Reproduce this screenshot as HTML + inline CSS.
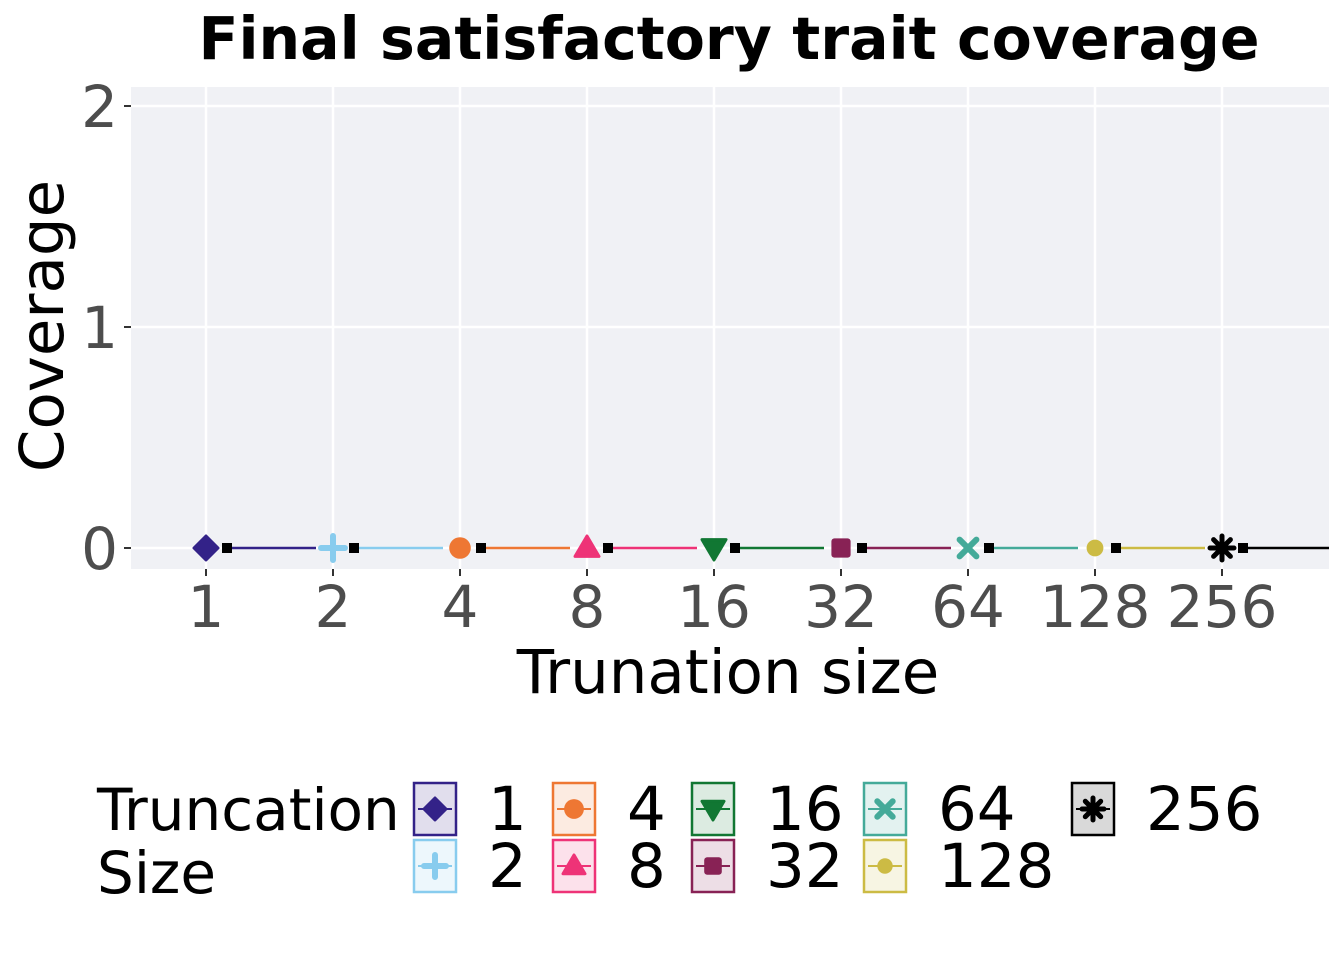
<!DOCTYPE html>
<html><head><meta charset="utf-8"><style>
body{margin:0;background:#fff;}
svg text{font-family:"DejaVu Sans","Liberation Sans",sans-serif;}
</style></head><body>
<svg id="chart" width="1344" height="960" xmlns="http://www.w3.org/2000/svg">
<text x="729" y="59" text-anchor="middle" font-size="58.5" font-weight="bold">Final satisfactory trait coverage</text>
<rect x="131" y="87" width="1198" height="482" fill="#f0f1f5"/>
<g id="grid"></g>
<g id="marks"></g>
<g id="axes"></g>
<text x="728" y="693" text-anchor="middle" font-size="61">Trunation size</text>
<text transform="translate(63,326) rotate(-90)" text-anchor="middle" font-size="61">Coverage</text>
<text x="97" y="830" font-size="58">Truncation</text>
<text x="97" y="893" font-size="58">Size</text>
<g id="legend"></g>
</svg>
<script>
const categories=["1","2","4","8","16","32","64","128","256"];
const values=[0,0,0,0,0,0,0,0,0];
const colors=["#332288","#88ccee","#ee7733","#ee3377","#117733","#882255","#44aa99","#ccbb44","#000000"];
const shapes=["diamond","plus","circle","triUp","triDown","square","cross","dot","star"];
const yTicks=[0,1,2];
const NS="http://www.w3.org/2000/svg";
const xs=i=>206+127*i;
const ys=v=>548-221*v;
function mk(t,a,p){const e=document.createElementNS(NS,t);for(const k in a)e.setAttribute(k,a[k]);p.appendChild(e);return e;}
const grid=document.getElementById('grid'),marks=document.getElementById('marks'),axes=document.getElementById('axes'),leg=document.getElementById('legend');
yTicks.forEach(t=>{
 const l=mk('line',{x1:131,x2:1329,y1:ys(t),y2:ys(t),stroke:'#fff','stroke-width':2.5},grid);
 
 
 mk('line',{x1:124,x2:131,y1:ys(t),y2:ys(t),stroke:'#333','stroke-width':2},axes);
 const tx=mk('text',{x:118,y:ys(t)+21,'text-anchor':'end','font-size':58,fill:'#4d4d4d'},axes);
 tx.textContent=t;
 
 
});
function shape(s,cx,cy,r,c,p){
 let e;
 if(s=='diamond')e=mk('polygon',{points:`${cx},${cy-r} ${cx+r},${cy} ${cx},${cy+r} ${cx-r},${cy}`,fill:c,stroke:c,'stroke-width':3,'stroke-linejoin':'round'},p);
 else if(s=='plus'){e=mk('path',{d:`M${cx-r},${cy}H${cx+r}M${cx},${cy-r}V${cy+r}`,stroke:c,'stroke-width':6,'stroke-linecap':'round'},p);}
 else if(s=='circle')e=mk('circle',{cx,cy,r:r*0.9,fill:c},p);
 else if(s=='triUp')e=mk('polygon',{points:`${cx},${cy-r} ${cx+r},${cy+r*0.7} ${cx-r},${cy+r*0.7}`,fill:c,stroke:c,'stroke-width':3,'stroke-linejoin':'round'},p);
 else if(s=='triDown')e=mk('polygon',{points:`${cx},${cy+r} ${cx+r},${cy-r*0.7} ${cx-r},${cy-r*0.7}`,fill:c,stroke:c,'stroke-width':3,'stroke-linejoin':'round'},p);
 else if(s=='square')e=mk('rect',{x:cx-r*0.8,y:cy-r*0.8,width:r*1.6,height:r*1.6,rx:3,fill:c},p);
 else if(s=='cross')e=mk('path',{d:`M${cx-r*.7},${cy-r*.7}L${cx+r*.7},${cy+r*.7}M${cx+r*.7},${cy-r*.7}L${cx-r*.7},${cy+r*.7}`,stroke:c,'stroke-width':6,'stroke-linecap':'round'},p);
 else if(s=='dot')e=mk('circle',{cx,cy,r:r*0.7,fill:c},p);
 else e=mk('path',{d:`M${cx-r},${cy}H${cx+r}M${cx},${cy-r}V${cy+r}M${cx-r*.7},${cy-r*.7}L${cx+r*.7},${cy+r*.7}M${cx+r*.7},${cy-r*.7}L${cx-r*.7},${cy+r*.7}`,stroke:c,'stroke-width':5,'stroke-linecap':'round'},p);
 return e;
}
categories.forEach((c,i)=>{
 const x=xs(i);
 const g=mk('line',{x1:x,x2:x,y1:87,y2:569,stroke:'#fff','stroke-width':2.5},grid);
 
 
 mk('line',{x1:x,x2:x,y1:569,y2:576,stroke:'#333','stroke-width':2},axes);
 const t=mk('text',{x:x,y:627,'text-anchor':'middle','font-size':58,fill:'#4d4d4d'},axes);
 t.textContent=c;
 
 
 const y=ys(values[i]);
 const x2=i==categories.length-1?1329:x+110;
 const ln=mk('line',{x1:x+21,x2:x2,y1:y,y2:y,stroke:colors[i],'stroke-width':2.5},marks);
 
 
 const pt=shape(shapes[i],x,y,12,colors[i],marks);
 
 
 const sq=mk('rect',{x:x+16,y:y-5,width:10,height:10,fill:'#000'},marks);
 
 
});
const lx=[414,553,692,864,1072];
categories.forEach((c,i)=>{
 const col=Math.floor(i/2),row=i%2;
 const x=lx[col],y=783+row*57;
 const g=mk('g',{},leg);
 
 
 mk('rect',{x:x,y:y,width:42,height:52,fill:colors[i],'fill-opacity':0.15,stroke:colors[i],'stroke-width':2.5},g);
 mk('line',{x1:x+4,x2:x+38,y1:y+26,y2:y+26,stroke:colors[i],'stroke-width':2},g);
 shape(shapes[i],x+21,y+26,11,colors[i],g);
 const t=mk('text',{x:x+74,y:y+47,'font-size':61},g);
 t.textContent=c;
});
</script>
</body></html>
